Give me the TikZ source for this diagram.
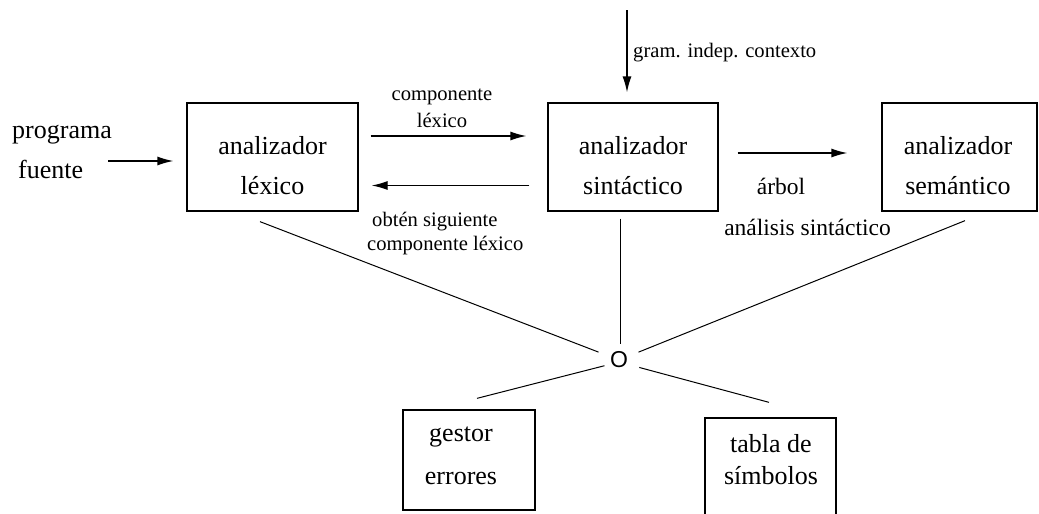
\documentclass[tikz,border=0pt]{standalone}
\usepackage{fontspec}
\setmainfont{Liberation Serif}
\newfontfamily\osans{Liberation Sans}
\usetikzlibrary{arrows.meta}
\begin{document}
\begin{tikzpicture}[x=1pt,y=-1pt,
  box/.style={draw, line width=1.3pt, inner sep=0pt},
  big/.style={font=\fontsize{26}{40}\selectfont, align=center, inner sep=0pt},
  small/.style={font=\fontsize{20.6}{24}\selectfont, inner sep=0pt},
  mid/.style={font=\fontsize{23.5}{41}\selectfont, inner sep=0pt},
  arr/.style={line width=1.3pt, -{Latex[length=16pt,width=9pt]}},
  ln/.style={line width=1pt}]
\clip (0,0) rectangle (1039,514);
\fill[white] (0,0) rectangle (1039,514);
% boxes
\node[box, minimum width=171pt, minimum height=108pt] (lex) at (272.5,157) {};
\node[box, minimum width=170pt, minimum height=108pt] (sin) at (633,157) {};
\node[box, minimum width=155pt, minimum height=108pt] (sem) at (959.5,157) {};
\node[box, minimum width=132pt, minimum height=100pt] (gest) at (469,460) {};
\node[box, minimum width=131pt, minimum height=120pt] (tab) at (770.5,478) {};
% box texts
\node[big] (lexT) at (272.5,166) {analizador\\léxico};
\node[big] (sinT) at (633,166) {analizador\\sintáctico};
\node[big] (semT) at (958,166) {analizador\\semántico};
\node[big, font=\fontsize{26}{43}\selectfont] (gestT) at (461,456) {gestor\\errores};
\node[big, font=\fontsize{26}{32}\selectfont] (tabT) at (771,460) {tabla de\\símbolos};
% other labels
\node[big, align=left, anchor=west] (prog) at (12,152) {programa\\\hspace*{6pt}fuente};
\node[small, anchor=base west] (gram) at (633,57) {gram. indep. contexto};
\node[small, align=center, font=\fontsize{20.6}{27}\selectfont] (comp) at (442,108.5) {componente\\léxico};
\node[small, align=left, anchor=west] (obt) at (367,234) {\hspace*{5pt}obtén siguiente\\componente léxico};
\node[mid, anchor=base] (arb) at (781,194) {árbol};
\node[mid, anchor=base] (anal) at (807.5,235) {análisis sintáctico};
\node[inner sep=0pt, font=\osans\fontsize{23}{23}\selectfont] (O) at (619,360) {O};
% arrows
\coordinate (in0) at (108,161);
\draw[arr, shorten >=13pt] (in0) -- (in0 -| lex.west);
\draw[arr, shorten <=12pt, shorten >=21pt] ([yshift=21pt]lex.east) -- ([yshift=21pt]sin.west);
\draw[arr, shorten <=18pt, shorten >=13pt] ([yshift=-28.5pt]sin.west) -- ([yshift=-28.5pt]lex.east);
\coordinate (top0) at (627,10);
\draw[arr, shorten >=10pt] (top0) -- (top0 |- sin.north);
\draw[arr, shorten <=19pt, shorten >=34pt] ([yshift=4pt]sin.east) -- ([yshift=4pt]sem.west);
% lines to O
\draw[ln, shorten >=22pt] ([xshift=-12.5pt,yshift=-10pt]lex.south) -- (O.center);
\draw[ln, shorten >=16pt] ([xshift=-13pt,yshift=-7pt]sin.south) -- (O.center -| 620,0);
\draw[ln, shorten >=21pt] ([xshift=5.5pt,yshift=-9pt]sem.south) -- (O.center);
\draw[ln, shorten >=15pt] ([xshift=8pt,yshift=11pt]gest.north) -- ([yshift=-2pt]O.center);
\draw[ln, shorten >=21pt] ([xshift=-1.5pt,yshift=15pt]tab.north) -- ([yshift=-2pt]O.center);
\end{tikzpicture}
\end{document}
